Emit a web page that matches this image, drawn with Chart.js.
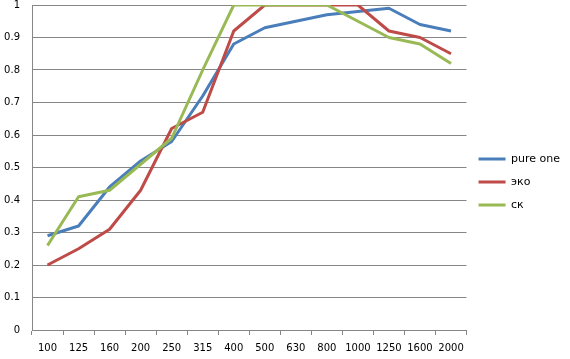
<!DOCTYPE html>
<html lang="ru">
<head>
  <meta charset="UTF-8">
  <title>pure one / эко / ск</title>
  <script src="https://cdn.jsdelivr.net/npm/chart.js"></script>
  <style>
    html, body { margin: 0; padding: 0; background: #fff; }
    #wrap { width: 570px; height: 359px; }
  </style>
</head>
<body>
  <div id="wrap"><canvas id="grafik"></canvas></div>

  <script>
    // частоты
    const chastoty = ['100', '125', '160', '200', '250', '315', '400', '500', '630', '800', '1000', '1250', '1600', '2000'];

    // значения серий
    const pureOne = [0.29, 0.32, 0.44, 0.52, 0.58, 0.72, 0.88, 0.93, 0.95, 0.97, 0.98, 0.99, 0.94, 0.92];
    const eko     = [0.20, 0.25, 0.31, 0.43, 0.62, 0.67, 0.92, 1.00, 1.00, 1.00, 1.00, 0.92, 0.90, 0.85];
    const sk      = [0.26, 0.41, 0.43, 0.51, 0.59, 0.80, 1.00, 1.00, 1.00, 1.00, 0.95, 0.90, 0.88, 0.82];

    const nazvaniya = ['pure one', 'эко', 'ск'];
    const cveta = ['#4a7ebb', '#be4b48', '#98b954'];

    Chart.defaults.font.family = '"DejaVu Sans", sans-serif';
    Chart.defaults.font.size = 10;
    Chart.defaults.color = '#000';

    const serii = [pureOne, eko, sk].map((d, i) => ({
      label: nazvaniya[i],
      data: d,
      borderColor: cveta[i],
      backgroundColor: cveta[i],
      borderWidth: 3,
      borderJoinStyle: 'round',
      pointRadius: 0,
      pointStyle: 'line',
      tension: 0,
      order: 3 - i // последняя серия поверх, как в Excel
    }));

    // убираем лишние отступы шкал, чтобы область графика была как в Excel
    const bezOtstupov = s => { s.paddingTop = 0; s.paddingBottom = 0; s.paddingLeft = 0; s.paddingRight = 0; };

    const ctx = document.getElementById('grafik').getContext('2d');
    new Chart(ctx, {
      type: 'line',
      data: { labels: chastoty, datasets: serii },
      options: {
        responsive: true,
        maintainAspectRatio: false,
        animation: false,
        layout: { padding: { left: 4, top: 5, right: 0, bottom: 0 } },
        plugins: {
          tooltip: { enabled: false },
          legend: {
            position: 'right',
            fullSize: true,
            labels: {
              usePointStyle: true,
              pointStyleWidth: 27,
              padding: 12,
              font: { size: 11 },
              sort: (a, b) => a.datasetIndex - b.datasetIndex
            }
          }
        },
        scales: {
          x: {
            offset: true,
            afterFit: s => { bezOtstupov(s); s.height = 29; },
            grid: {
              offset: true,
              drawOnChartArea: false,
              tickLength: 5,
              color: '#868686'
            },
            border: { color: '#868686' },
            ticks: { maxRotation: 0, autoSkip: false, padding: 7 }
          },
          y: {
            min: 0,
            max: 1,
            afterFit: s => { bezOtstupov(s); s.width = 28; },
            ticks: {
              stepSize: 0.1,
              padding: 12,
              callback: v => String(Math.round(v * 10) / 10)
            },
            grid: { color: '#868686', drawTicks: false },
            border: { color: '#868686' }
          }
        }
      }
    });
  </script>
</body>
</html>
